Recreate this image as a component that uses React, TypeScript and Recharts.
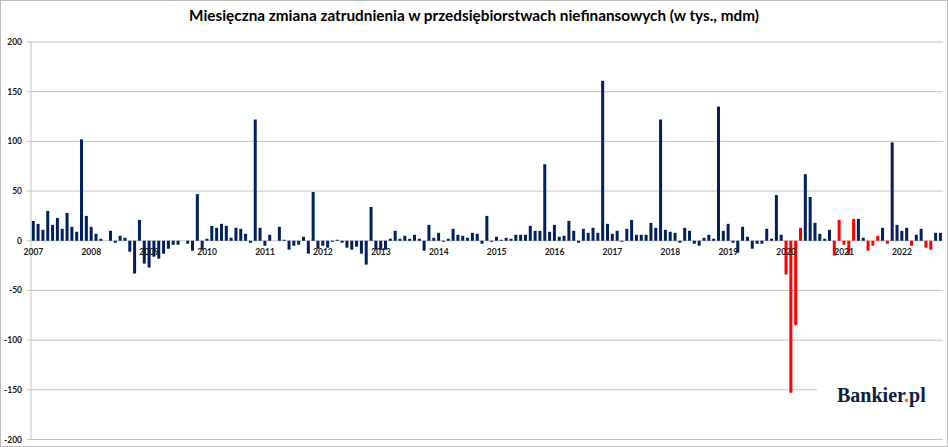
import React from 'react';
import { BarChart, Bar, XAxis, YAxis, CartesianGrid, Cell } from 'recharts';

const CHART_W = 948;
const CHART_H = 447;
const MARGIN = { top: 42, right: 5, bottom: 6.5, left: 0 };
const X_AXIS_H = 1;
const PLOT_H = CHART_H - MARGIN.top - MARGIN.bottom - X_AXIS_H;
const ZERO_Y = MARGIN.top + PLOT_H / 2;

const years = [
  '2007', '2008', '2009', '2010', '2011', '2012', '2013', '2014',
  '2015', '2016', '2017', '2018', '2019', '2020', '2021', '2022',
];
const monthNumbers = ['01', '02', '03', '04', '05', '06', '07', '08', '09', '10', '11', '12'];

// monthly change of employment, thousands, m/m
const employmentChange = [
  20, 17, 11, 30, 16, 23, 12, 28, 14, 9, 102, 25, // 2007
  14, 7, 2, 0, 10, -2, 5, 3, -11, -33, 21, -23, // 2008
  -27, -16, -18, -13, -8, -4, -4, 0, -3, -10, 47, -9, // 2009
  2, 15, 13, 17, 15, 3, 13, 12, 7, -2, 122, 13, // 2010
  -5, 6, 0, 14, 1, -9, -5, -4, 4, -13, 49, -8, // 2011
  -5, -7, -1, 1, -2, -7, -9, -6, -13, -24, 34, -9, // 2012
  -9, -9, 2, 10, 2, 5, 2, 6, 2, -10, 16, 3, // 2013
  8, -1, 2, 12, 6, 5, 3, 8, 7, -3, 25, -1, // 2014
  4, 1, 3, 2, 6, 6, 6, 15, 10, 10, 77, 9, // 2015
  16, 4, 5, 20, 10, -2, 12, 8, 13, 8, 161, 17, // 2016
  7, 10, -1, 12, 21, 6, 6, 6, 18, 13, 122, 11, // 2017
  9, 8, -2, 13, 10, -3, -5, 3, 6, 2, 135, 10, // 2018
  17, -2, -12, 14, 4, -8, -3, -3, 12, 2, 46, 6, // 2019
  -34, -153, -85, 13, 67, 44, 18, 7, 2, 11, -15, 21, // 2020
  -4, -14, 22, 22, 3, -10, -5, 5, 13, -3, 99, 16, // 2021
  10, 13, -5, 6, 12, -7, -9, 8, 8, // 2022
];

// months drawn in red
const redMonths = [
  '2020-01', '2020-02', '2020-03', '2020-04', '2020-11', '2020-12',
  '2021-01', '2021-02', '2021-03', '2021-06', '2021-07', '2021-08', '2021-10',
  '2022-03', '2022-06', '2022-07',
];

const yTicks = [-200, -150, -100, -50, 0, 50, 100, 150, 200];

const months = years.flatMap((y) => monthNumbers.map((m) => `${y}-${m}`));
const data = employmentChange.map((value, i) => ({ month: months[i], value }));

const NAVY = '#002060';
const RED = '#FF0000';
const GRID = '#c4c4c4';
const FONT = 'Lato, "Open Sans", sans-serif';

// year labels sit just under the zero line, like in the excel original
const YearTick = ({ x, payload }: any) => (
  <text
    x={x}
    y={ZERO_Y + 14.5}
    textAnchor="middle"
    fontSize={8.5}
    fontWeight="bold"
    fontFamily={FONT}
    fill="#1a1a1a"
  >
    {String(payload.value).slice(0, 4)}
  </text>
);

export default function App() {
  return (
    <div style={{ position: 'absolute', left: 0, top: 0, width: CHART_W, height: CHART_H, background: '#fff' }}>
      <BarChart width={CHART_W} height={CHART_H} data={data} margin={MARGIN} barCategoryGap="16%">
        <CartesianGrid vertical={false} stroke={GRID} />
        <XAxis
          dataKey="month"
          height={X_AXIS_H}
          interval={11}
          axisLine={false}
          tickLine={false}
          tick={<YearTick />}
        />
        <YAxis
          width={31}
          domain={[-200, 200]}
          ticks={yTicks}
          interval={0}
          tickSize={4}
          tickMargin={5}
          axisLine={{ stroke: GRID }}
          tickLine={{ stroke: GRID }}
          tick={{ fontSize: 8.5, fontWeight: 'bold', fontFamily: FONT, fill: '#1a1a1a' }}
        />
        <Bar dataKey="value" isAnimationActive={false}>
          {data.map((d) => (
            <Cell key={d.month} fill={redMonths.includes(d.month) ? RED : NAVY} />
          ))}
        </Bar>
      </BarChart>
      <svg
        width={CHART_W}
        height={CHART_H}
        style={{ position: 'absolute', left: 0, top: 0, pointerEvents: 'none' }}
      >
        <text
          x={474}
          y={21}
          textAnchor="middle"
          fontSize={15.3}
          fontWeight="bold"
          fontFamily={FONT}
          fill="#000"
        >
          Miesięczna zmiana zatrudnienia w przedsiębiorstwach niefinansowych (w tys., mdm)
        </text>
        <rect x={817} y={378} width={128} height={40} fill="#fff" />
        <text
          x={837}
          y={402}
          fontSize={20}
          fontWeight="bold"
          fontFamily='"Liberation Serif", "DejaVu Serif", serif'
          fill="#0f1d3c"
        >
          Bankier<tspan fill="#f26522">.</tspan>pl
        </text>
        <rect x={0.5} y={0.5} width={CHART_W - 1} height={CHART_H - 1} fill="none" stroke="#bdbdbd" />
      </svg>
    </div>
  );
}
